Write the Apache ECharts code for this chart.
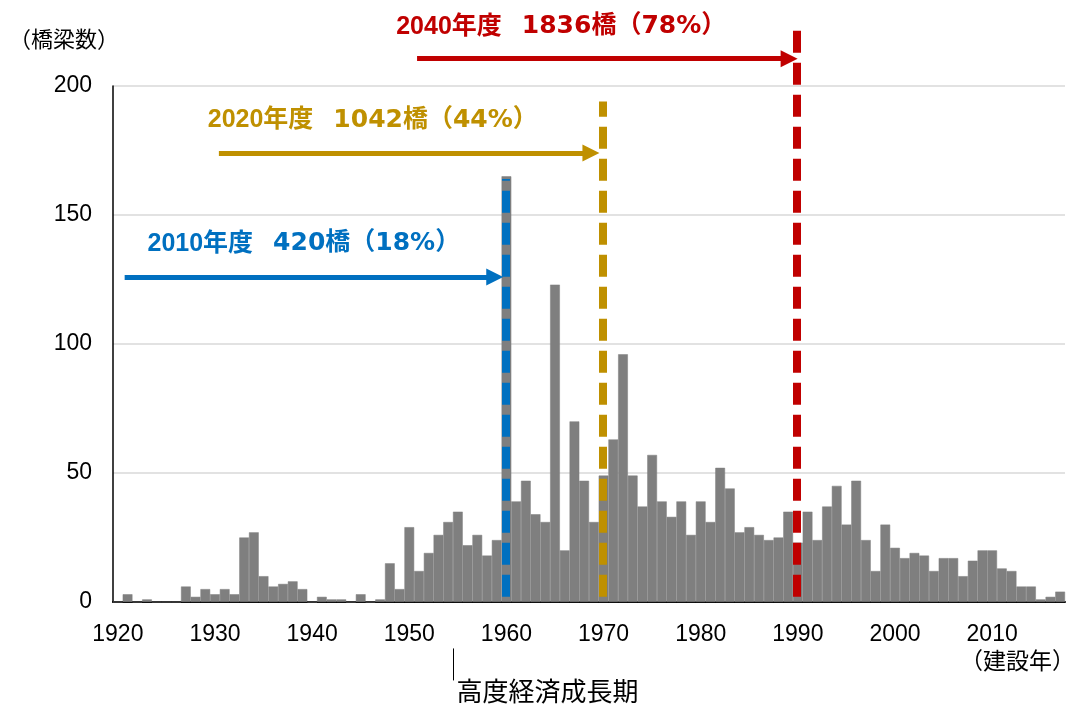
<!DOCTYPE html>
<html>
<head>
<meta charset="utf-8">
<script src="https://cdn.jsdelivr.net/npm/echarts@6/dist/echarts.min.js"></script>
<style>html,body{margin:0;padding:0;background:#fff}#c{width:1074px;height:704px}</style>
</head>
<body>
<div id="c"></div>
<script>
// ---- data ----
const firstYear = 1920, lastYear = 2017;
const years = [];
for (let y = firstYear; y <= lastYear; y++) years.push(String(y));
const bridgeCounts = [
  0, 3, 0, 1, 0, 0, 0, 6, 2, 5,          // 1920-1929
  3, 5, 3, 25, 27, 10, 6, 7, 8, 5,       // 1930-1939
  0, 2, 1, 1, 0, 3, 0, 1, 15, 5,         // 1940-1949
  29, 12, 19, 26, 31, 35, 22, 26, 18, 24,// 1950-1959
  165, 39, 47, 34, 31, 123, 20, 70, 47, 31, // 1960-1969
  49, 63, 96, 49, 37, 57, 39, 33, 39, 26,   // 1970-1979
  39, 31, 52, 44, 27, 29, 26, 24, 25, 35,   // 1980-1989
  23, 35, 24, 37, 45, 30, 47, 24, 12, 30,   // 1990-1999
  21, 17, 19, 18, 12, 17, 17, 10, 16, 20,   // 2000-2009
  20, 13, 12, 6, 6, 1, 2, 4                 // 2010-2017
];
const yTicks = [0, 50, 100, 150, 200];
const thresholdYears = [1960, 1970, 1990];
const thresholdBottom = 2;
const thresholdTops = [164, 194, 222];
const fiscalYearLabels = ['2010年度', '2020年度', '2040年度'];
const agedCountLabels = ['420橋（18%）', '1042橋（44%）', '1836橋（78%）'];
const arrowFrom = [1920.7, 1930.4, 1950.8];
const arrowTo = [1958.8, 1968.7, 1989.1];
const arrowLevel = [126, 174, 210.6];
const labelYear = [1923.0, 1929.2, 1948.6];
const labelLevel = [138.9, 186.7, 222.9];
const growthStartBoundary = 1954.5;
const growthLabel = '高度経済成長期';

// ---- layout & style ----
const W = 1074, H = 704;
const L = 113, R = 1065, T = 86, B = 602;
const colors = ['#0070C0', '#BF9000', '#C00000'];
const nCat = years.length;
const yrPerPx = nCat / (R - L);
const valPerPx = 200 / (B - T);
const ovXMin = (firstYear - 0.5) - L * yrPerPx;
const ovXMax = (lastYear + 0.5) + (W - R) * yrPerPx;
const ovYMin = -(H - B) * valPerPx;
const ovYMax = 200 + T * valPerPx;

const narrow = '"Liberation Sans", "Noto Sans CJK JP", sans-serif';
const cjk = '"Noto Sans CJK JP", sans-serif';

const markLines = [];
const markPoints = [];
thresholdYears.forEach((yr, i) => {
  markLines.push([
    { coord: [yr - 0.12, thresholdBottom], lineStyle: { color: colors[i], width: 8, type: [22, 10] }, symbol: 'none' },
    { coord: [yr - 0.12, thresholdTops[i]], symbol: 'none' }
  ]);
  markLines.push([
    { coord: [arrowFrom[i], arrowLevel[i]], lineStyle: { color: colors[i], width: 5, type: 'solid' }, symbol: 'none', itemStyle: { color: colors[i] } },
    { coord: [arrowTo[i], arrowLevel[i]], symbol: 'triangle', symbolSize: 17, itemStyle: { color: colors[i] } }
  ]);
  markPoints.push({
    coord: [labelYear[i], labelLevel[i]],
    label: {
      show: true, position: 'right', distance: 0,
      formatter: '{a|' + fiscalYearLabels[i] + '}{s| }{b|' + agedCountLabels[i] + '}',
      rich: {
        a: { fontFamily: narrow, fontWeight: 'bold', fontSize: 25, color: colors[i] },
        s: { width: 20, fontSize: 20 },
        b: { fontFamily: '"DejaVu Sans", "Noto Sans CJK JP", sans-serif', fontWeight: 'bold', fontSize: 25, color: colors[i] }
      }
    }
  });
});
markLines.push([
  { coord: [growthStartBoundary, -18], lineStyle: { color: '#000', width: 1, type: 'solid' }, symbol: 'none' },
  { coord: [growthStartBoundary, -30.4], symbol: 'none' }
]);
markPoints.push({
  coord: [growthStartBoundary + 0.3, -34.6],
  label: { show: true, position: 'right', distance: 0, formatter: growthLabel, fontFamily: cjk, fontSize: 26, color: '#000' }
});

const chart = echarts.init(document.getElementById('c'), null, { renderer: 'canvas' });
chart.setOption({
  animation: false,
  backgroundColor: '#fff',
  title: [
    { text: '（橋梁数）', left: 4, top: 23, textStyle: { fontFamily: cjk, fontSize: 22, fontWeight: 'normal', color: '#000' } },
    { text: '（建設年）', left: 955, top: 644, textStyle: { fontFamily: cjk, fontSize: 23, fontWeight: 'normal', color: '#000' } }
  ],
  grid: [
    { left: L, top: T, width: R - L, height: B - T, containLabel: false },
    { left: 0, top: 0, width: W, height: H, containLabel: false }
  ],
  xAxis: [
    {
      type: 'category', gridIndex: 0, data: years,
      axisLine: { lineStyle: { color: '#000', width: 2 } },
      axisTick: { show: false },
      axisLabel: {
        interval: (idx, v) => Number(v) % 10 === 0,
        fontFamily: narrow, fontSize: 23, color: '#000', margin: 21
      },
      splitLine: { show: false }
    },
    { type: 'value', gridIndex: 1, min: ovXMin, max: ovXMax, show: false, splitLine: { show: false } }
  ],
  yAxis: [
    {
      type: 'value', gridIndex: 0, min: yTicks[0], max: yTicks[yTicks.length - 1], interval: yTicks[1] - yTicks[0],
      axisLine: { show: true, lineStyle: { color: '#000', width: 1.5 } },
      axisTick: { show: false },
      axisLabel: { fontFamily: narrow, fontSize: 23, color: '#000', margin: 21 },
      splitLine: { lineStyle: { color: '#d9d9d9', width: 1.5 } }
    },
    { type: 'value', gridIndex: 1, min: ovYMin, max: ovYMax, show: false, splitLine: { show: false } }
  ],
  series: [
    {
      type: 'bar', xAxisIndex: 0, yAxisIndex: 0, data: bridgeCounts,
      barCategoryGap: '0%',
      itemStyle: { color: '#7f7f7f', borderColor: '#7f7f7f', borderWidth: 0.5 },
      z: 2
    },
    {
      type: 'scatter', xAxisIndex: 1, yAxisIndex: 1, data: [], symbolSize: 0, z: 10,
      markLine: { silent: true, z: 10, animation: false, label: { show: false }, data: markLines },
      markPoint: { silent: true, z: 11, animation: false, symbol: 'rect', symbolSize: 1, itemStyle: { color: 'rgba(0,0,0,0)' }, data: markPoints }
    }
  ]
});
</script>
</body>
</html>
